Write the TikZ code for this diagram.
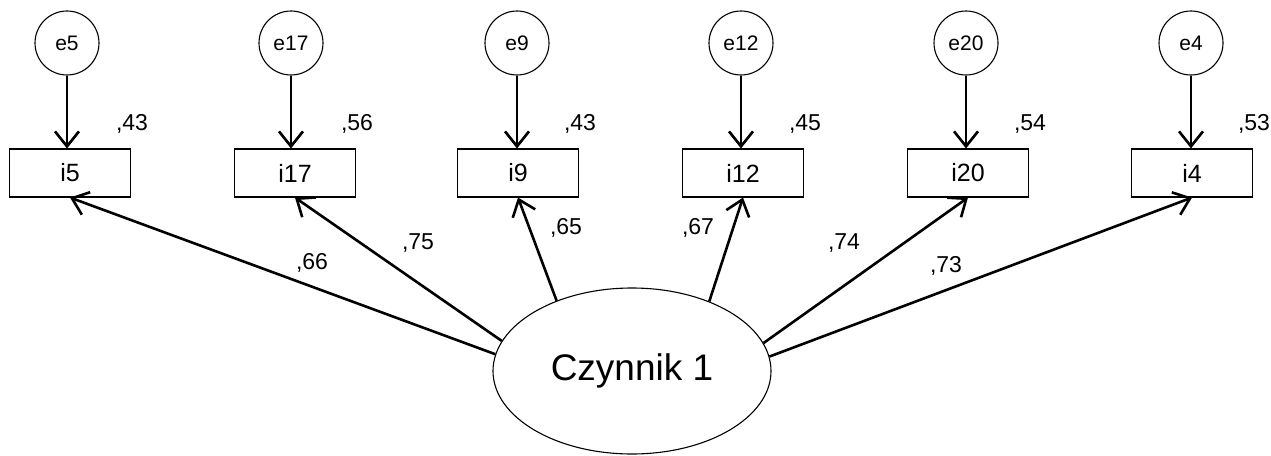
\documentclass[tikz,border=0pt]{standalone}
\usepackage{fontspec}
\setmainfont{Liberation Sans}
\usetikzlibrary{shapes.geometric,arrows.meta}

\tikzset{
  errc/.style={circle, draw, line width=1.1pt, minimum size=64pt, inner sep=0pt,
    font=\fontsize{21}{21}\selectfont},
  itembox/.style={rectangle, draw, line width=1.1pt, minimum width=121pt,
    minimum height=48pt, inner sep=0pt, font=\fontsize{25}{25}\selectfont},
  factor/.style={ellipse, draw, line width=1.1pt, minimum width=278pt,
    minimum height=166pt, inner sep=0pt, font=\fontsize{37}{37}\selectfont},
  coef/.style={inner sep=0pt, font=\fontsize{23}{23}\selectfont},
  path arrow/.style={line width=2.6pt, -{Straight Barb[length=15pt, width=24pt, line width=2.6pt]}}
}

\begin{document}
\begin{tikzpicture}[x=1pt, y=-1pt]
  \useasboundingbox (0,0) rectangle (1271,455);

  % latent factor
  \node[factor] (F) at (632,371) {Czynnik 1};

  % observed items, error terms and their coefficients
  \foreach \name/\err/\ex/\bx/\rsq in
      {i5/e5/67/70/43, i17/e17/291/295/56, i9/e9/517/518/43,
       i12/e12/741/743/45, i20/e20/966/968/54, i4/e4/1191/1192/53} {
    \node[itembox] (\name) at (\bx,173) {\name};
    \node[errc] (\err) at (\ex,43) {\err};
    \draw[path arrow] (\err.south) -- (\err.south |- \name.north);
    \node[coef] (r\name) at (\bx+62,124) {,\rsq};
  }

  % factor loadings
  \draw[path arrow] (F.173.3) -- (i5.south);
  \draw[path arrow] (F.167.4) -- (i17.south);
  \draw[path arrow] (F.137.4) -- (i9.south);
  \draw[path arrow] (F.42.6) -- (i12.south);
  \draw[path arrow] (F.12.6) -- (i20.south);
  \draw[path arrow] (F.6.7) -- (i4.south);

  \node[coef] (l5) at (312,263) {,66};
  \node[coef] (l17) at (418,243) {,75};
  \node[coef] (l9) at (566,228) {,65};
  \node[coef] (l12) at (698,228) {,67};
  \node[coef] (l20) at (844,243) {,74};
  \node[coef] (l4) at (946,266) {,73};
\end{tikzpicture}
\end{document}
